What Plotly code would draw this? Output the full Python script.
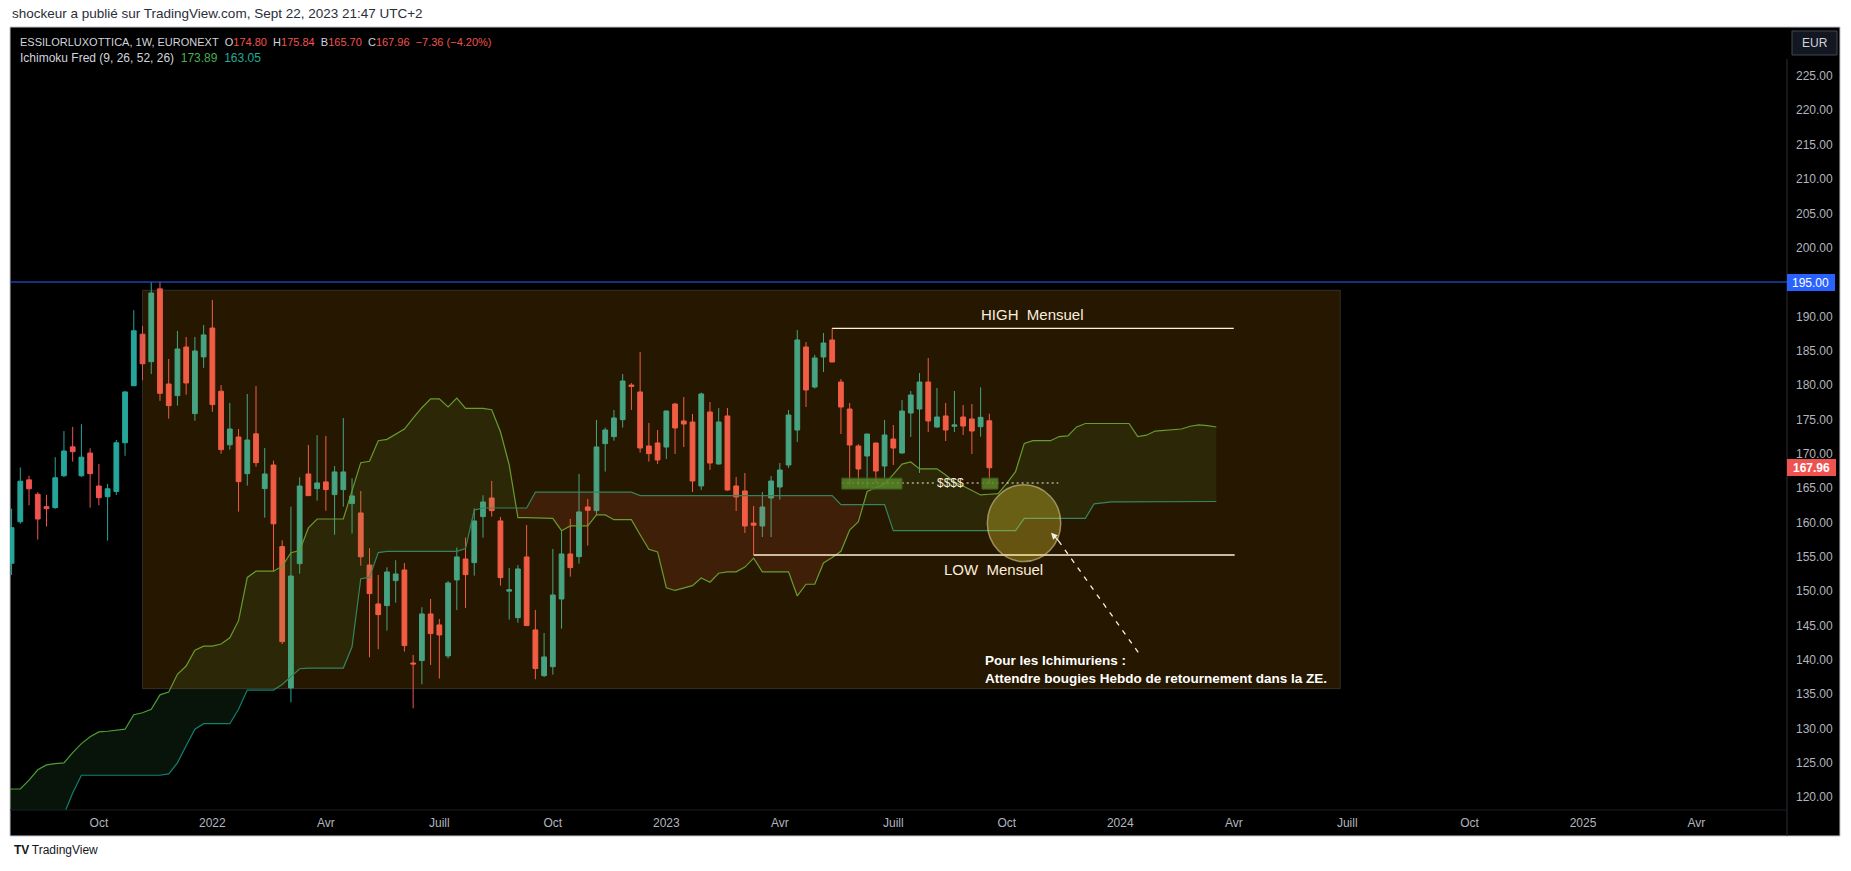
import pandas as pd
import plotly.graph_objects as go

# ESSILORLUXOTTICA 1W, bougies hebdo (lundi), derniere bougie = semaine du 18/09/2023
last_bar = pd.Timestamp("2023-09-18")
week = pd.Timedelta(days=7)

bar_open = [154.05, 160.1, 166.2, 164.1, 162.3, 162.15, 166.8, 171.0, 166.8, 170.1,
            165.3, 163.75, 164.5, 171.6, 179.9, 187.4, 183.4, 194.0, 180.15, 178.46,
            185.54, 175.84, 184.1, 188.3, 179.1, 171.3, 172.44, 167.1, 172.9, 164.92,
            168.36, 156.48, 135.9, 154.0, 167.06, 164.92, 165.9, 164.05, 164.78, 162.74,
            161.38, 153.8, 148.14, 147.89, 151.53, 153.08, 139.54, 139.89, 146.68, 145.08,
            140.57, 151.63, 154.68, 154.15, 160.85, 163.56, 160.22, 150.0, 146.14, 154.98,
            144.35, 137.7, 139.0, 148.86, 155.41, 155.02, 162.25, 161.72, 171.47, 172.49,
            174.96, 180.0, 178.99, 171.13, 171.57, 170.98, 177.24, 174.77, 174.62, 165.31,
            176.08, 168.51, 175.5, 165.31, 164.58, 159.9, 159.48, 163.56, 165.16, 168.36,
            173.45, 185.54, 179.71, 184.08, 186.56, 180.44, 176.51, 171.13, 169.67, 171.56,
            168.21, 172.14, 170.11, 175.93, 176.51, 180.44, 173.89, 175.5, 174.0, 175.35,
            175.06, 173.94, 174.80]
bar_high = [162.0, 168.0, 166.8, 164.4, 164.0, 169.5, 173.3, 173.9, 174.3, 170.8,
            168.5, 165.6, 172.0, 179.1, 190.9, 188.6, 194.95, 195.0, 183.8, 187.87,
            187.0, 187.0, 188.74, 192.4, 180.0, 177.4, 173.6, 178.7, 179.86, 170.84,
            169.0, 157.4, 162.3, 166.57, 171.28, 172.7, 172.6, 168.2, 175.2, 166.43,
            164.58, 156.24, 152.36, 153.47, 154.5, 154.1, 140.7, 147.65, 148.86, 145.95,
            151.5, 156.34, 157.79, 162.06, 163.95, 166.04, 160.8, 153.37, 153.8, 159.63,
            147.26, 143.91, 156.14, 158.81, 160.51, 167.06, 163.42, 174.92, 173.8, 176.37,
            181.6, 180.3, 184.81, 174.48, 173.46, 176.3, 177.4, 178.26, 175.79, 178.9,
            177.53, 176.66, 176.66, 166.62, 167.2, 162.4, 164.43, 166.76, 168.65, 176.37,
            188.0, 186.26, 184.4, 187.57, 188.3, 180.88, 177.38, 171.4, 172.9, 171.6,
            174.91, 174.18, 177.82, 179.13, 181.75, 183.94, 179.57, 177.39, 179.13, 177.09,
            177.24, 179.66, 175.84]
bar_low = [152.35, 159.8, 162.5, 157.5, 159.4, 162.0, 166.6, 168.85, 166.6, 162.15,
           162.5, 157.35, 164.0, 169.7, 179.9, 180.7, 181.6, 177.7, 175.1, 177.0,
           178.6, 174.8, 182.5, 176.1, 170.0, 170.6, 161.57, 165.36, 168.1, 160.7,
           152.84, 142.3, 133.8, 152.55, 163.9, 163.18, 161.7, 158.2, 162.3, 158.37,
           153.7, 140.37, 141.54, 144.25, 148.33, 141.2, 132.95, 136.44, 139.26, 137.27,
           140.2, 147.26, 147.55, 152.26, 157.79, 160.85, 150.8, 145.85, 145.4, 144.98,
           137.17, 137.5, 137.85, 144.54, 152.11, 154.0, 156.63, 161.09, 167.4, 171.9,
           173.8, 176.37, 170.16, 168.85, 168.51, 169.24, 169.96, 170.98, 164.43, 164.72,
           167.64, 168.4, 164.6, 161.67, 158.47, 155.26, 157.88, 157.88, 163.31, 167.92,
           171.71, 176.8, 179.5, 181.9, 183.35, 172.87, 165.45, 165.45, 165.16, 165.74,
           166.47, 168.36, 170.0, 172.44, 167.2, 173.16, 173.8, 171.85, 173.16, 172.73,
           169.96, 172.48, 165.70]
bar_close = [159.24, 166.0, 164.9, 160.5, 162.0, 166.5, 170.4, 170.3, 169.5, 167.1,
             163.6, 164.9, 171.6, 179.0, 187.9, 183.1, 193.4, 178.8, 177.0, 185.25,
             180.3, 184.96, 187.3, 177.15, 170.6, 173.6, 165.94, 172.0, 168.7, 167.05,
             159.8, 142.65, 152.2, 165.3, 163.9, 165.75, 164.78, 167.35, 167.35, 163.86,
             155.0, 149.64, 146.58, 152.79, 152.5, 142.07, 139.4, 146.68, 143.82, 143.62,
             151.19, 154.98, 152.4, 160.22, 162.98, 161.72, 151.97, 150.2, 153.23, 144.98,
             138.72, 140.42, 149.44, 155.41, 153.42, 161.53, 161.77, 170.99, 173.46, 175.21,
             180.59, 179.8, 170.84, 170.01, 169.09, 176.22, 173.75, 174.33, 166.03, 178.7,
             168.65, 174.62, 164.72, 163.71, 159.48, 159.6, 162.25, 166.03, 167.63, 175.64,
             186.56, 179.28, 183.94, 186.12, 183.35, 176.8, 171.27, 167.78, 172.87, 167.49,
             172.73, 170.83, 176.22, 178.55, 180.44, 174.77, 175.35, 173.46, 174.2, 174.04,
             173.31, 175.3, 167.96]

# Ichimoku : nuage projete 26 semaines en avant (113 semaines avant -> 26 apres)
span_a = [120.5, 121.2, 121.2, 122.5, 124.0, 124.7, 124.9, 125.0, 126.5, 127.8,
          128.8, 129.5, 129.6, 129.7, 129.9, 132.0, 132.3, 132.8, 134.9, 135.3,
          137.9, 139.1, 141.4, 142.0, 142.0, 142.3, 143.2, 145.7, 152.0, 152.9,
          152.9, 152.9, 153.6, 155.6, 155.9, 159.2, 160.5, 160.5, 160.5, 160.5,
          164.6, 168.7, 168.9, 171.9, 172.1, 172.8, 173.6, 175.2, 176.7, 178.0,
          178.0, 176.8, 178.1, 176.6, 176.6, 176.6, 176.4, 173.2, 168.4, 160.7,
          160.7, 160.7, 160.6, 160.6, 158.8, 159.5, 159.5, 159.5, 161.1, 161.1,
          160.4, 160.4, 160.4, 158.2, 156.1, 155.7, 150.5, 150.1, 150.5, 150.8,
          151.9, 151.3, 152.6, 152.8, 152.8, 153.5, 154.8, 152.8, 152.8, 152.8,
          152.8, 149.3, 151.0, 151.0, 154.1, 154.9, 155.8, 158.9, 160.1, 164.5,
          165.0, 165.6, 167.0, 168.5, 168.8, 167.8, 167.8, 167.8, 166.9, 165.9,
          165.3, 164.6, 164.0, 164.1, 164.2, 165.7, 167.4, 171.5, 171.9, 171.9,
          171.9, 172.5, 172.6, 173.9, 174.4, 174.4, 174.4, 174.4, 174.4, 174.4,
          172.5, 172.7, 173.3, 173.4, 173.5, 173.6, 174.0, 174.2, 174.1, 173.89]
span_b = [116.5, 116.5, 116.5, 116.5, 116.5, 116.5, 116.5, 117.5, 120.6, 123.2,
          123.2, 123.2, 123.2, 123.2, 123.2, 123.2, 123.2, 123.2, 123.2, 123.4,
          125.0, 127.5, 129.9, 130.7, 130.7, 130.7, 130.7, 132.8, 135.6, 135.6,
          135.6, 135.6, 136.4, 137.5, 138.7, 138.8, 138.8, 138.8, 138.8, 138.8,
          141.9, 151.8, 152.0, 155.6, 155.8, 155.8, 155.8, 155.8, 155.8, 155.8,
          155.8, 155.8, 155.8, 156.2, 161.8, 162.1, 162.1, 162.1, 162.1, 162.1,
          162.1, 164.4, 164.4, 164.4, 164.4, 164.4, 164.4, 164.4, 164.4, 164.4,
          164.4, 164.4, 164.4, 163.9, 163.9, 163.9, 163.9, 163.9, 163.9, 163.9,
          163.9, 163.9, 163.9, 163.9, 163.9, 163.9, 163.9, 163.9, 163.9, 163.9,
          163.9, 163.9, 163.9, 163.9, 163.9, 163.9, 162.6, 162.6, 162.6, 162.6,
          162.6, 162.6, 158.8, 158.8, 158.8, 158.8, 158.8, 158.8, 158.8, 158.8,
          158.8, 158.8, 158.8, 158.8, 158.8, 158.8, 158.8, 160.6, 160.6, 160.6,
          160.6, 160.6, 160.6, 160.6, 160.6, 162.7, 162.9, 163.0, 163.0, 163.0,
          163.0, 163.0, 163.0, 163.0, 163.0, 163.0, 163.0, 163.0, 163.0, 163.05]

# 195.00 est masque par l'etiquette bleue
price_ticks = [120, 125, 130, 135, 140, 145, 150, 155, 160, 165, 170, 175,
               180, 185, 190, 200, 205, 210, 215, 220, 225]
time_ticks = ["2021-10-04", "2022-01-03", "2022-04-04", "2022-07-04", "2022-10-03",
              "2023-01-02", "2023-04-03", "2023-07-03", "2023-10-02", "2024-01-01",
              "2024-04-01", "2024-07-01", "2024-10-07", "2025-01-06", "2025-04-07"]
time_labels = ["Oct", "2022", "Avr", "Juill", "Oct", "2023", "Avr", "Juill", "Oct",
               "2024", "Avr", "Juill", "Oct", "2025", "Avr"]

monthly_high = 188.25
monthly_low = 155.26
liquidity = 165.74
resistance = 195.0

bar_dates = pd.date_range(end=last_bar, periods=len(bar_close), freq="7D")
cloud_dates = pd.date_range(start=last_bar - 113 * week, periods=len(span_a), freq="7D")

W, H = 1851, 871
L, R, T, B = 10, 64, 27, 61
PW, PH = W - L - R, H - T - B
FONT = "Liberation Sans, Arial, sans-serif"


def wk(n):
    # position relative a la derniere bougie, en semaines
    return last_bar + n * week


def px_x(px):
    return (px - L) / PW


def px_y(py):
    return (H - B - py) / PH


def cloud_regions(xs, a, b):
    regions = []
    cx, ca, cb = [xs[0]], [a[0]], [b[0]]
    up = a[0] >= b[0]
    for i in range(1, len(xs)):
        s = a[i] >= b[i]
        if s != up:
            d0 = a[i - 1] - b[i - 1]
            d1 = a[i] - b[i]
            t = d0 / (d0 - d1)
            xc = xs[i - 1] + (xs[i] - xs[i - 1]) * t
            yc = a[i - 1] + (a[i] - a[i - 1]) * t
            cx.append(xc); ca.append(yc); cb.append(yc)
            regions.append((up, cx, ca, cb))
            cx, ca, cb = [xc], [yc], [yc]
            up = s
        cx.append(xs[i]); ca.append(a[i]); cb.append(b[i])
    regions.append((up, cx, ca, cb))
    return regions


fig = go.Figure()

for up, cx, ca, cb in cloud_regions(list(cloud_dates), span_a, span_b):
    fig.add_trace(go.Scatter(
        x=cx + cx[::-1], y=ca + cb[::-1], mode="lines", fill="toself",
        fillcolor="rgba(67,160,71,0.12)" if up else "rgba(255,82,82,0.12)",
        line=dict(width=0), hoverinfo="skip"))

fig.add_trace(go.Scatter(x=cloud_dates, y=span_a, mode="lines",
                         line=dict(color="#4c9e35", width=1.2), hoverinfo="skip"))
fig.add_trace(go.Scatter(x=cloud_dates, y=span_b, mode="lines",
                         line=dict(color="#12806f", width=1.2), hoverinfo="skip"))

fig.add_trace(go.Candlestick(
    x=bar_dates, open=bar_open, high=bar_high, low=bar_low, close=bar_close,
    increasing=dict(line=dict(color="#26a69a", width=1), fillcolor="#26a69a"),
    decreasing=dict(line=dict(color="#ef5350", width=1), fillcolor="#ef5350"),
    whiskerwidth=0, hoverinfo="skip"))

shapes = [
    # fond du panneau TradingView
    dict(type="rect", xref="paper", yref="paper", x0=0, x1=px_x(1840), y0=px_y(836), y1=1,
         fillcolor="#000000", line=dict(color="#c3c5cb", width=1), layer="below"),
    # separateurs axes
    dict(type="line", xref="paper", yref="paper", x0=1, x1=1, y0=px_y(836), y1=px_y(59),
         line=dict(color="#2a2e39", width=1)),
    dict(type="line", xref="paper", yref="paper", x0=0, x1=1, y0=0, y1=0,
         line=dict(color="#1c1f27", width=1)),
    # ligne 195
    dict(type="line", xref="paper", yref="y", x0=0, x1=1, y0=resistance, y1=resistance,
         line=dict(color="#2962ff", width=1.2), layer="above"),
    # high / low mensuel
    dict(type="line", xref="x", yref="y", x0=bar_dates[-19], x1=wk(28), y0=monthly_high,
         y1=monthly_high, line=dict(color="#ffffff", width=1.3), layer="above"),
    dict(type="line", xref="x", yref="y", x0=bar_dates[-28], x1=wk(28.1), y0=monthly_low,
         y1=monthly_low, line=dict(color="#ffffff", width=1.3), layer="above"),
    # pointilles $$$$
    dict(type="line", xref="x", yref="y", x0=wk(-16.9), x1=wk(-6.2), y0=liquidity,
         y1=liquidity, line=dict(color="#ffffff", width=1.2, dash="2px,3px"), layer="above"),
    dict(type="line", xref="x", yref="y", x0=wk(-2.6), x1=wk(7.9), y0=liquidity,
         y1=liquidity, line=dict(color="#ffffff", width=1.2, dash="2px,3px"), layer="above"),
    # fleche pointillee
    dict(type="line", xref="x", yref="y", x0=wk(17.05), x1=wk(7.6), y0=141.1, y1=157.9,
         line=dict(color="#ffffff", width=1.3, dash="5px,6px"), layer="above"),
    # rectangle de la zone
    dict(type="rect", xref="x", yref="y", x0=bar_dates[-98], x1=wk(40.2), y0=135.8, y1=193.8,
         fillcolor="rgba(255,152,0,0.15)", line=dict(color="rgba(110,110,110,0.35)", width=1),
         layer="above"),
    # zones de liquidite
    dict(type="rect", xref="x", yref="y", x0=wk(-16.9), x1=wk(-10.0), y0=164.85, y1=166.45,
         fillcolor="rgba(88,135,40,0.85)", line=dict(color="#3d5a1e", width=1), layer="above"),
    dict(type="rect", xref="x", yref="y", x0=wk(-0.85), x1=wk(1.0), y0=164.85, y1=166.45,
         fillcolor="rgba(88,135,40,0.85)", line=dict(color="#3d5a1e", width=1), layer="above"),
    # cercle ZE
    dict(type="circle", xref="x", yref="y", x0=wk(-0.23), x1=wk(8.18), y0=154.3, y1=165.5,
         fillcolor="rgba(255,235,59,0.29)", line=dict(color="rgba(225,215,160,0.55)", width=1.5),
         layer="above"),
    # etiquettes de prix
    dict(type="rect", xref="paper", yref="paper", x0=px_x(1787), x1=px_x(1835),
         y0=px_y(291), y1=px_y(274), fillcolor="#2962ff", line=dict(width=0), layer="above"),
    dict(type="rect", xref="paper", yref="paper", x0=px_x(1787), x1=px_x(1836),
         y0=px_y(476), y1=px_y(459), fillcolor="#ef5350", line=dict(width=0), layer="above"),
    dict(type="rect", xref="paper", yref="paper", x0=px_x(1792), x1=px_x(1837),
         y0=px_y(55), y1=px_y(31), fillcolor="#131722", line=dict(color="#434651", width=1),
         layer="above"),
]

red = "#ef5350"
nb = "\u00a0"
header = (f"ESSILORLUXOTTICA, 1W, EURONEXT{nb}{nb}O<span style='color:{red}'>{bar_open[-1]:.2f}</span>"
          f"{nb}{nb}H<span style='color:{red}'>{bar_high[-1]:.2f}</span>"
          f"{nb}{nb}B<span style='color:{red}'>{bar_low[-1]:.2f}</span>"
          f"{nb}{nb}C<span style='color:{red}'>{bar_close[-1]:.2f}</span>"
          f"{nb}{nb}<span style='color:{red}'>−7.36 (−4.20%)</span>")
ichi = (f"Ichimoku Fred (9, 26, 52, 26){nb}{nb}<span style='color:#4caf50'>{span_a[-1]:.2f}</span>"
        f"{nb}{nb}<span style='color:#22ab94'>{span_b[-1]:.2f}</span>")

annotations = [
    dict(xref="paper", yref="paper", x=px_x(10), y=px_y(14), xanchor="left", yanchor="middle",
         text="shockeur a publié sur TradingView.com, Sept 22, 2023 21:47 UTC+2",
         font=dict(size=13.5, color="#2a2e39"), showarrow=False),
    dict(xref="paper", yref="paper", x=px_x(18), y=px_y(42), xanchor="left", yanchor="middle",
         text=header, font=dict(size=11, color="#d1d4dc"), showarrow=False),
    dict(xref="paper", yref="paper", x=px_x(18), y=px_y(58), xanchor="left", yanchor="middle",
         text=ichi, font=dict(size=12, color="#d1d4dc"), showarrow=False),
    dict(xref="paper", yref="paper", x=px_x(1814.5), y=px_y(43), xanchor="center", yanchor="middle",
         text="EUR", font=dict(size=12, color="#d1d4dc"), showarrow=False),
    dict(xref="paper", yref="paper", x=px_x(1811), y=px_y(282.5), xanchor="center", yanchor="middle",
         text=f"{resistance:.2f}", font=dict(size=12, color="#ffffff"), showarrow=False),
    dict(xref="paper", yref="paper", x=px_x(1811.5), y=px_y(467.5), xanchor="center", yanchor="middle",
         text=f"<b>{bar_close[-1]:.2f}</b>", font=dict(size=12, color="#ffffff"), showarrow=False),
    dict(xref="x", yref="y", x=wk(4.9), y=190.2, text="HIGH\u00a0\u00a0Mensuel",
         font=dict(size=15, color="#fbeedd"), showarrow=False),
    dict(xref="x", yref="y", x=wk(0.5), y=153.2, text="LOW\u00a0\u00a0Mensuel",
         font=dict(size=15, color="#fbeedd"), showarrow=False),
    dict(xref="x", yref="y", x=wk(-4.4), y=liquidity, text="$$$$",
         font=dict(size=12, color="#fbeedd"), showarrow=False),
    dict(xref="x", yref="y", x=wk(-0.75), y=138.6, xanchor="left", yanchor="middle", align="left",
         text="<b>Pour les Ichimuriens :<br>Attendre bougies Hebdo de retournement dans la ZE.</b>",
         font=dict(size=13.5, color="#ffffff"), showarrow=False),
    dict(xref="x", yref="y", x=wk(7.07), y=158.5, axref="x", ayref="y", ax=wk(8.1), ay=157.1,
         text="", showarrow=True, arrowhead=2, arrowsize=1, arrowwidth=1.3, arrowcolor="#f5ede2"),
    dict(xref="paper", yref="paper", x=px_x(12), y=px_y(850), xanchor="left", yanchor="middle",
         text="<b>TV</b>\u2009TradingView", font=dict(size=12, color="#131722"), showarrow=False),
]

fig.update_layout(
    width=W, height=H,
    margin=dict(l=L, r=R, t=T, b=B),
    paper_bgcolor="#ffffff", plot_bgcolor="#000000",
    font=dict(family=FONT, size=12, color="#b2b5be"),
    showlegend=False, hovermode=False, boxgap=0.22,
    shapes=shapes, annotations=annotations,
    xaxis=dict(
        type="date", range=[wk(-112.18), wk(91.37)],
        tickvals=pd.to_datetime(time_ticks), ticktext=time_labels,
        showgrid=False, zeroline=False, showline=False, ticks="",
        tickfont=dict(size=12, color="#b2b5be"), ticklabelstandoff=4,
        rangeslider=dict(visible=False), fixedrange=True),
    yaxis=dict(
        side="right", range=[118.14, 232.12],
        tickvals=price_ticks, ticktext=[f"{v:.2f}" for v in price_ticks],
        showgrid=False, zeroline=False, showline=False, ticks="",
        tickfont=dict(size=12, color="#b2b5be"), ticklabelstandoff=8, fixedrange=True),
)

fig.write_html("out.html", config={"displayModeBar": False},
               post_script="document.body.style.margin='0';document.body.style.overflow='hidden';")
